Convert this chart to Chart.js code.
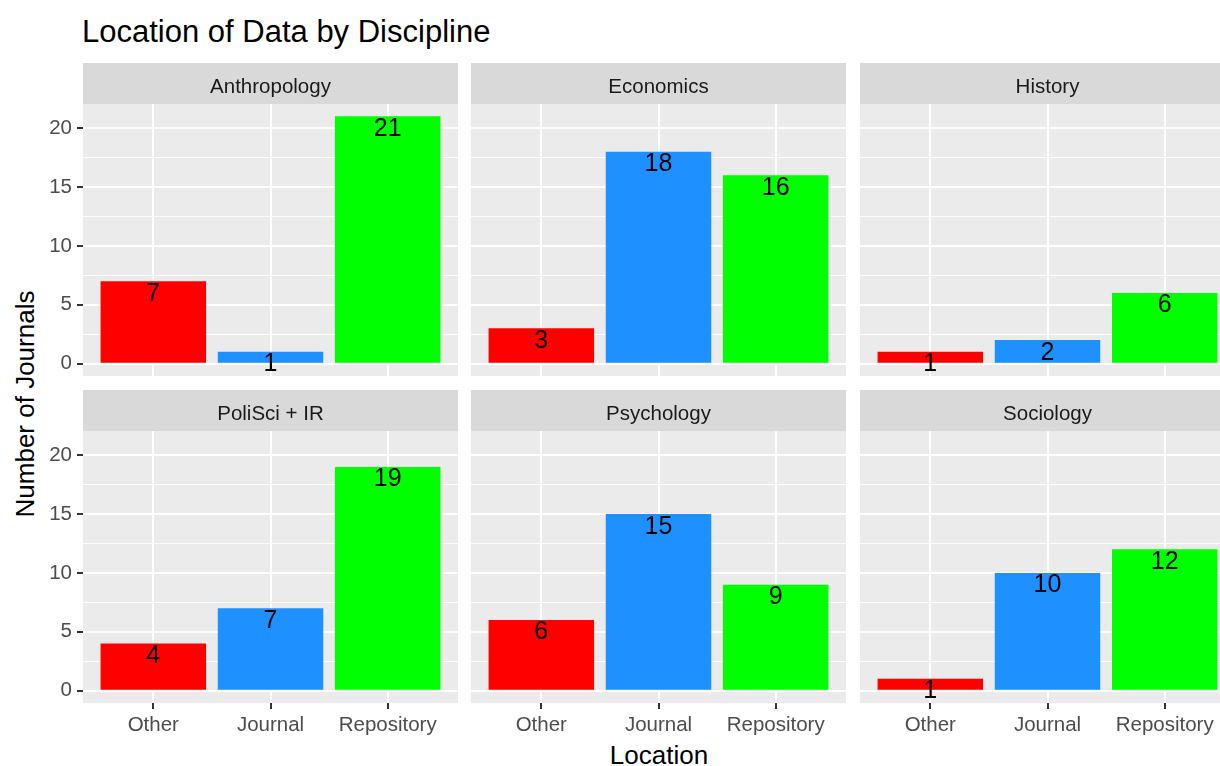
<!DOCTYPE html>
<html>
<head>
<meta charset="utf-8">
<script src="https://cdn.jsdelivr.net/npm/chart.js@4.4.0/dist/chart.umd.min.js"></script>
<style>
  html, body { margin: 0; padding: 0; background: #fff; overflow: hidden; }
  body { width: 1220px; height: 766px; position: relative; font-family: "Liberation Sans", Arial, sans-serif; }
  canvas { position: absolute; }
  .txt { position: absolute; white-space: nowrap; color: #000; }
</style>
</head>
<body>
<div class="txt" style="left:82px; top:15.5px; font-size:31px; line-height:31px;">Location of Data by Discipline</div>
<div class="txt" style="left:659px; top:742px; font-size:26px; line-height:26px; transform:translateX(-50%);">Location</div>
<div class="txt" style="left:25px; top:404px; font-size:26px; line-height:26px; transform:translate(-50%,-50%) rotate(-90deg);">Number of Journals</div>
<script>
// facet data
const disciplines = ['Anthropology', 'Economics', 'History', 'PoliSci + IR', 'Psychology', 'Sociology'];
const locations = ['Other', 'Journal', 'Repository'];
const otherCounts = [7, 3, 1, 4, 6, 1];
const journalCounts = [1, 18, 2, 7, 15, 10];
const repositoryCounts = [21, 16, 6, 19, 9, 12];
const yMajorTicks = [0, 5, 10, 15, 20];
const yMinorTicks = [2.5, 7.5, 12.5, 17.5];
const locationColors = ['#FF0000', '#1E90FF', '#00FF00'];

// panel geometry (ggplot facet_wrap look)
const colLeft = [83, 471, 860];
const stripTops = [63, 390];
const panelW = 375, panelH = 272, stripH = 41;
const yAxisW = 50, xAxisH = 50;

Chart.defaults.font.family = '"Liberation Sans", Arial, sans-serif';

const isMajor = v => yMajorTicks.includes(v);

const panelPlugin = {
  id: 'panel',
  beforeDraw(chart, args, opts) {
    const { ctx, chartArea: a } = chart;
    ctx.save();
    ctx.fillStyle = '#EBEBEB';
    ctx.fillRect(a.left, a.top, a.right - a.left, a.bottom - a.top);
    ctx.fillStyle = '#D9D9D9';
    ctx.fillRect(a.left, a.top - stripH, a.right - a.left, stripH);
    ctx.fillStyle = '#1A1A1A';
    ctx.font = '20.5px "Liberation Sans", Arial, sans-serif';
    ctx.textAlign = 'center';
    ctx.textBaseline = 'alphabetic';
    ctx.fillText(opts.text, (a.left + a.right) / 2, a.top - stripH + 29.5);
    ctx.restore();
  },
  afterDatasetsDraw(chart) {
    const ctx = chart.ctx;
    const ds = chart.data.datasets[0];
    ctx.save();
    ctx.fillStyle = '#000';
    ctx.font = '25px "Liberation Sans", Arial, sans-serif';
    ctx.textAlign = 'center';
    ctx.textBaseline = 'alphabetic';
    chart.getDatasetMeta(0).data.forEach((bar, k) => {
      ctx.fillText(String(ds.data[k].y), bar.x, bar.y + 19.5);
    });
    ctx.restore();
  }
};

disciplines.forEach((name, i) => {
  const col = i % 3, row = Math.floor(i / 3);
  const leftW = col === 0 ? yAxisW : 0;
  const bottomH = row === 1 ? xAxisH : 0;
  const canvas = document.createElement('canvas');
  canvas.width = leftW + panelW;
  canvas.height = stripH + panelH + bottomH;
  canvas.style.left = (colLeft[col] - leftW) + 'px';
  canvas.style.top = stripTops[row] + 'px';
  document.body.appendChild(canvas);

  const counts = [otherCounts[i], journalCounts[i], repositoryCounts[i]];

  new Chart(canvas.getContext('2d'), {
    type: 'bar',
    data: {
      datasets: [{
        data: counts.map((v, k) => ({ x: k + 1, y: v })),
        backgroundColor: locationColors,
        borderWidth: 0,
        barPercentage: 0.9,
        categoryPercentage: 1
      }]
    },
    options: {
      responsive: false,
      animation: false,
      devicePixelRatio: 1,
      layout: { autoPadding: false, padding: { top: stripH, left: 0, right: 0, bottom: 0 } },
      plugins: {
        legend: { display: false },
        tooltip: { enabled: false },
        panel: { text: name }
      },
      scales: {
        x: {
          type: 'linear',
          offset: false,
          min: 0.4,
          max: 3.6,
          afterBuildTicks: s => { s.ticks = locations.map((_, k) => ({ value: k + 1 })); },
          afterFit: s => { s.height = bottomH; s.paddingLeft = 0; s.paddingRight = 0; },
          border: { display: false },
          grid: {
            offset: false,
            color: '#FFFFFF',
            lineWidth: 2,
            drawTicks: row === 1,
            tickLength: 6,
            tickColor: '#333333',
            tickWidth: 2
          },
          ticks: {
            display: row === 1,
            padding: 4,
            color: '#4D4D4D',
            font: { size: 20.5 },
            maxRotation: 0,
            autoSkip: false,
            callback: v => locations[v - 1]
          }
        },
        y: {
          min: -1.05,
          max: 22.05,
          afterBuildTicks: s => {
            s.ticks = yMajorTicks.concat(yMinorTicks).sort((a, b) => a - b).map(v => ({ value: v }));
          },
          afterFit: s => { s.width = leftW; s.paddingTop = 0; s.paddingBottom = 0; },
          border: { display: false },
          grid: {
            color: '#FFFFFF',
            lineWidth: c => isMajor(c.tick.value) ? 2 : 1,
            drawTicks: col === 0,
            tickLength: 6,
            tickColor: c => isMajor(c.tick.value) ? '#333333' : 'rgba(0,0,0,0)',
            tickWidth: 2
          },
          ticks: {
            display: col === 0,
            padding: 5,
            color: '#4D4D4D',
            font: { size: 20.5 },
            autoSkip: false,
            callback: v => isMajor(v) ? String(v) : ''
          }
        }
      }
    },
    plugins: [panelPlugin]
  });
});
</script>
</body>
</html>
